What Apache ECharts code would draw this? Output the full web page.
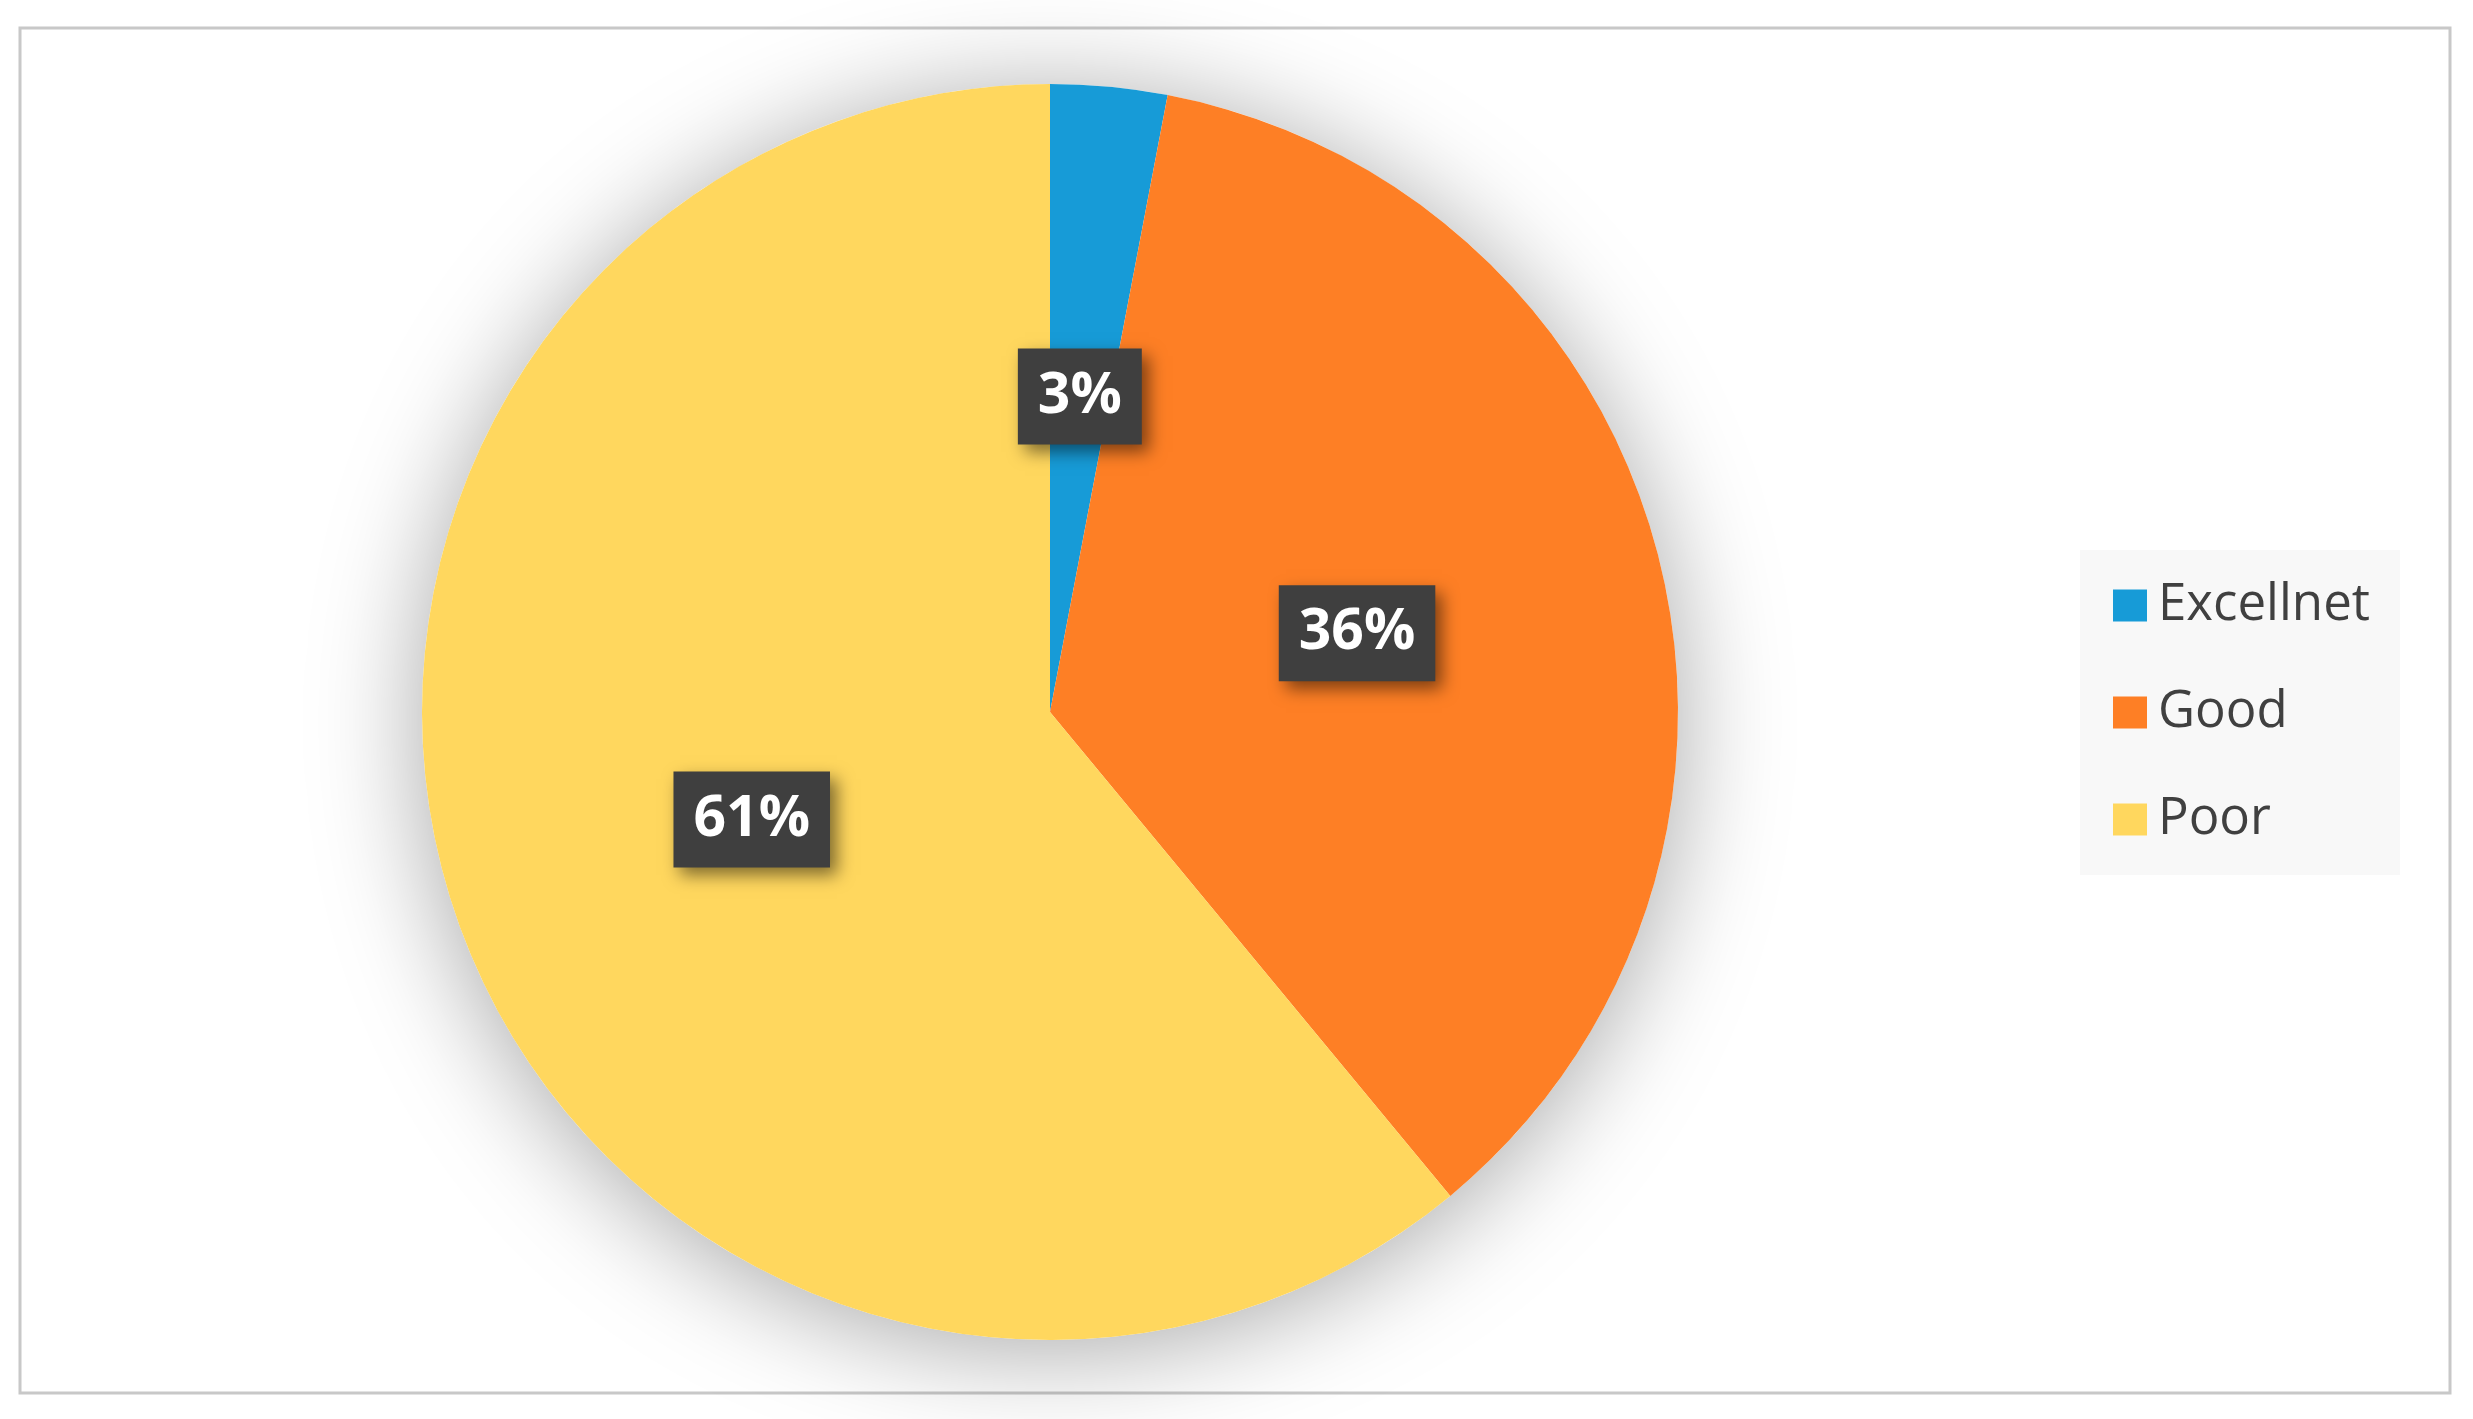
<!DOCTYPE html>
<html>
<head>
<meta charset="utf-8">
<script src="https://cdn.jsdelivr.net/npm/echarts@6/dist/echarts.min.js"></script>
<style>
html,body{margin:0;padding:0;background:#fff;}
#main{width:2473px;height:1419px;}
</style>
</head>
<body>
<div id="main"></div>
<script>
const categories = ['Excellnet', 'Good', 'Poor'];
const values = [3, 36, 61];
const colors = ['#179bd7', '#fe7f25', '#ffd75e'];

const total = values.reduce((a, b) => a + b, 0);
const chart = echarts.init(document.getElementById('main'));
const FONT = '"Open Sans", "Noto Sans", sans-serif';

chart.setOption({
  backgroundColor: '#ffffff',
  animation: false,
  graphic: [{
    type: 'rect',
    shape: { x: 20, y: 28, width: 2430, height: 1365 },
    style: { fill: 'none', stroke: '#c8c8c8', lineWidth: 3 },
    silent: true,
    z: 0
  }],
  legend: {
    orient: 'vertical',
    left: 2080,
    top: 550,
    padding: [30, 30, 30, 33],
    backgroundColor: '#f8f8f8',
    icon: 'rect',
    itemWidth: 34,
    itemHeight: 32,
    itemGap: 56,
    data: categories,
    textStyle: {
      fontFamily: FONT,
      fontSize: 51,
      lineHeight: 46,
      color: '#404040',
      padding: [0, 0, 0, 6]
    }
  },
  series: [
    {
      name: 'shadow',
      type: 'pie',
      center: [1050, 712],
      radius: 628,
      silent: true,
      z: 1,
      label: { show: false },
      labelLine: { show: false },
      itemStyle: {
        color: '#ffffff',
        shadowBlur: 110,
        shadowColor: 'rgba(0,0,0,0.35)',
        shadowOffsetY: 10
      },
      data: [{ name: '', value: total }]
    },
    {
      name: 'Rating',
      type: 'pie',
      center: [1050, 712],
      radius: 628,
      startAngle: 90,
      clockwise: true,
      z: 2,
      itemStyle: { borderWidth: 0 },
      label: {
        show: true,
        position: 'inside',
        formatter: '{d}%',
        fontFamily: FONT,
        fontWeight: 'bold',
        fontSize: 57,
        lineHeight: 60,
        color: '#ffffff',
        backgroundColor: '#3f3f3f',
        padding: [18, 20, 18, 20],
        shadowBlur: 16,
        shadowColor: 'rgba(0,0,0,0.5)',
        shadowOffsetX: 7,
        shadowOffsetY: 8
      },
      labelLine: { show: false },
      data: categories.map((c, i) => ({
        name: c,
        value: values[i],
        itemStyle: { color: colors[i] }
      }))
    }
  ]
});
</script>
</body>
</html>
